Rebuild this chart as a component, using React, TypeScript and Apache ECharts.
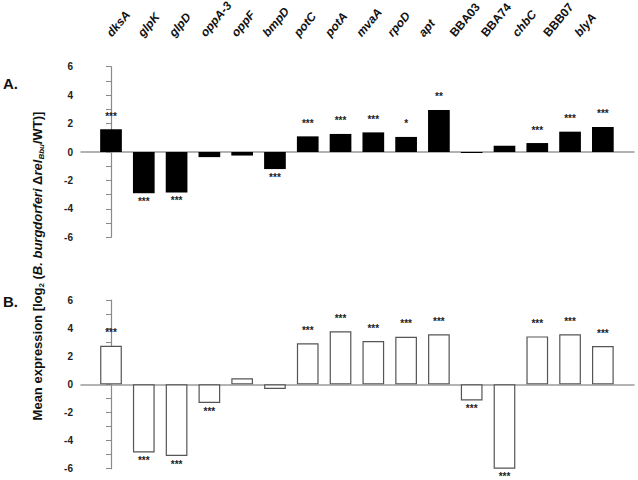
import React, { useEffect, useRef } from "react";
import * as echarts from "echarts";

const genes = ["dksA", "glpK", "glpD", "oppA-3", "oppF", "bmpD", "potC", "potA", "mvaA", "rpoD", "apt", "BBA03", "BBA74", "chbC", "BBB07", "blyA"];
const italicGene = [true, true, true, true, true, true, true, true, true, true, true, false, false, true, false, true];
const valuesA = [1.6, -2.9, -2.85, -0.36, -0.25, -1.2, 1.1, 1.27, 1.38, 1.06, 2.96, -0.07, 0.44, 0.63, 1.43, 1.76];
const sigA = ["***", "***", "***", "", "", "***", "***", "***", "***", "*", "**", "", "", "***", "***", "***"];
const valuesB = [2.75, -4.84, -5.1, -1.33, 0.43, -0.33, 2.92, 3.77, 3.08, 3.39, 3.56, -1.14, -6.0, 3.41, 3.56, 2.72];
const sigB = ["***", "***", "***", "***", "", "", "***", "***", "***", "***", "***", "***", "***", "***", "***", "***"];
const yTicks = { min: -6, max: 6, interval: 2 };

const FONT = "'Liberation Sans', Arial, sans-serif";

function barData(values: number[], sig: string[]) {
  return values.map((v, i) => ({
    value: [i, v],
    label: {
      show: sig[i] !== "",
      formatter: sig[i],
      position: v >= 0 ? "top" : "bottom",
      distance: v >= 0 ? 8 : 3,
      fontSize: 10,
      fontWeight: "bold",
      color: "#222",
      fontFamily: FONT,
    },
  }));
}

function yAxisCfg(gridIndex: number) {
  return {
    type: "value",
    gridIndex,
    min: yTicks.min,
    max: yTicks.max,
    interval: yTicks.interval,
    axisLine: { show: true, lineStyle: { color: "#8a8a8a", width: 1.2 } },
    axisTick: { show: true, length: 5, lineStyle: { color: "#8a8a8a" } },
    minorTick: { show: true, splitNumber: 2, length: 5, lineStyle: { color: "#8a8a8a" } },
    axisLabel: { fontSize: 10, fontWeight: "bold", color: "#222", fontFamily: FONT, margin: 8 },
    splitLine: { show: false },
  };
}

function xAxisCfg(gridIndex: number) {
  return {
    type: "value",
    gridIndex,
    min: -0.915,
    max: 15.95,
    axisLine: { show: true, onZero: true, lineStyle: { color: "#9a9a9a", width: 1.5 } },
    axisTick: { show: false },
    axisLabel: { show: false },
    splitLine: { show: false },
  };
}

export default function App() {
  const ref = useRef<HTMLDivElement>(null);
  useEffect(() => {
    if (!ref.current) return;
    const chart = echarts.init(ref.current, null, { renderer: "svg" });
    const baseGraphics: any[] = [
      {
        type: "text",
        left: 3,
        top: 76,
        style: { text: "A.", fontSize: 15, fontWeight: "bold", fill: "#111", fontFamily: FONT },
      },
      {
        type: "text",
        left: 3,
        top: 294,
        style: { text: "B.", fontSize: 15, fontWeight: "bold", fill: "#111", fontFamily: FONT },
      },
      {
        type: "text",
        x: 37,
        y: 266,
        rotation: Math.PI / 2,
        style: {
          text: "{b|Mean expression [log}{s|2}{b| (}{i|B. burgdorferi}{b| Δ}{i|rel}{si|Bbu}{b|/WT)]}",
          align: "center",
          verticalAlign: "middle",
          fill: "#111",
          rich: {
            b: { fontSize: 13, fontWeight: "bold", fontFamily: FONT, lineHeight: 17, verticalAlign: "middle" },
            i: { fontSize: 13, fontWeight: "bold", fontStyle: "italic", fontFamily: FONT, lineHeight: 17, verticalAlign: "middle" },
            s: { fontSize: 8, fontWeight: "bold", fontFamily: FONT, lineHeight: 17, verticalAlign: "bottom", padding: [6, 0, 0, 0] },
            si: { fontSize: 8, fontWeight: "bold", fontStyle: "italic", fontFamily: FONT, lineHeight: 17, verticalAlign: "bottom", padding: [6, 0, 0, 0] },
          },
        },
      },
    ];
    const option: any = {
      animation: false,
      backgroundColor: "#ffffff",
      textStyle: { fontFamily: FONT },
      grid: [
        { left: 81, right: 4, top: 66.7, height: 170.6 },
        { left: 81, right: 4, top: 300, height: 168.7 },
        { left: 93.4, right: 45.4, top: 25, height: 10 },
      ],
      xAxis: [
        xAxisCfg(0),
        xAxisCfg(1),
        { type: "category", gridIndex: 2, data: genes, show: false },
      ],
      yAxis: [
        yAxisCfg(0),
        yAxisCfg(1),
        { type: "value", gridIndex: 2, min: 0, max: 1, show: false },
      ],
      series: [
        {
          type: "bar",
          xAxisIndex: 0,
          yAxisIndex: 0,
          barWidth: 21.7,
          itemStyle: { color: "#000000" },
          data: barData(valuesA, sigA),
        },
        {
          type: "bar",
          xAxisIndex: 1,
          yAxisIndex: 1,
          barWidth: 21.7,
          itemStyle: { color: "#ffffff", borderColor: "#555555", borderWidth: 1.2 },
          data: barData(valuesB, sigB),
        },
        {
          type: "scatter",
          xAxisIndex: 2,
          yAxisIndex: 2,
          symbolSize: 0,
          silent: true,
          data: genes.map((g) => [g, 0]),
        },
      ],
      graphic: baseGraphics,
    };
    chart.setOption(option);
    const labelGraphics = genes.map((g, i) => {
      const p = chart.convertToPixel({ xAxisIndex: 2, yAxisIndex: 2 }, [i, 0]) as number[];
      return {
        type: "text",
        x: p[0],
        y: p[1],
        rotation: (50 * Math.PI) / 180,
        style: {
          text: g,
          align: "left",
          verticalAlign: "middle",
          fontSize: 12,
          fontWeight: "bold",
          fontStyle: italicGene[i] ? "italic" : "normal",
          fontFamily: FONT,
          fill: "#111",
        },
      };
    });
    chart.setOption({ graphic: [...baseGraphics, ...labelGraphics] });
    return () => chart.dispose();
  }, []);
  return <div ref={ref} style={{ position: "fixed", left: 0, top: 0, width: 638, height: 480 }} />;
}
